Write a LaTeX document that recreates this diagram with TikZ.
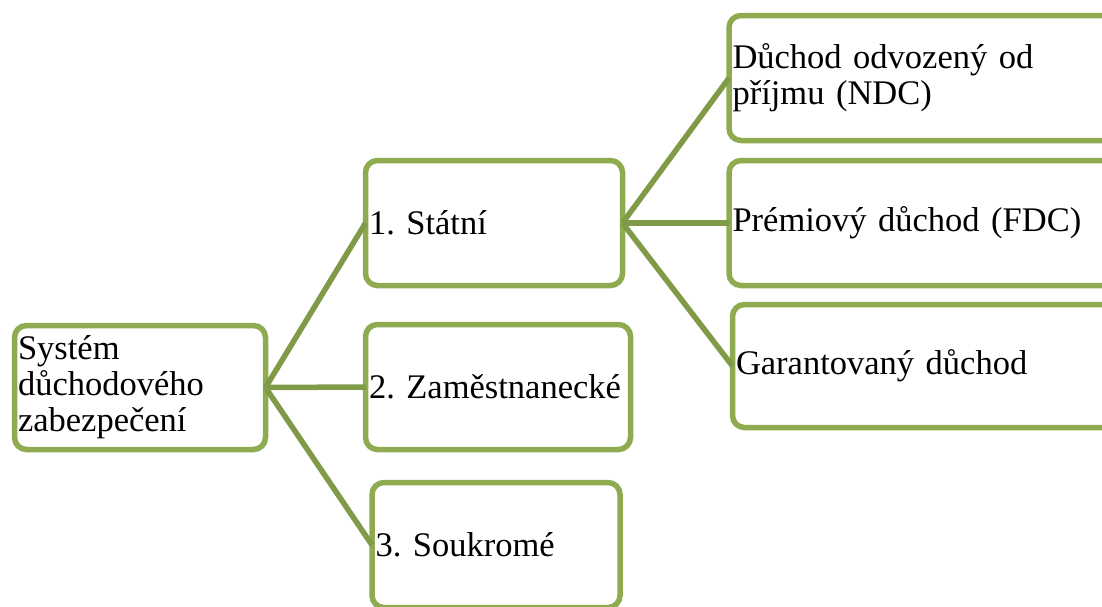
\documentclass[tikz,border=0pt]{standalone}
\usepackage{fontspec}
\setmainfont{Liberation Serif}
\frenchspacing
\definecolor{boxgreen}{HTML}{8EAB50}
\definecolor{linegreen}{HTML}{7F9B48}
\tikzset{
  box/.style={draw=boxgreen, line width=5.5pt, rounded corners=12pt, fill=white,
    anchor=north west, outer sep=0pt, inner xsep=3.5pt, inner ysep=0pt,
    align=left, font=\fontsize{34.5}{36}\selectfont},
  conn/.style={draw=linegreen, line width=5.5pt}
}
\begin{document}
\begin{tikzpicture}[x=1pt,y=-1pt]
\useasboundingbox (0,0) rectangle (1102,606);
\clip (0,0) rectangle (1102,606);
\node[box, minimum width=251pt, minimum height=124pt, text width=244pt] (root) at (14.5,325.5) {Systém\\důchodového\\zabezpečení};
\node[box, minimum width=257pt, minimum height=125pt, text width=250pt] (statni) at (365.5,160.5) {1. Státní};
\node[box, minimum width=265pt, minimum height=125pt, text width=258pt] (zam) at (365.5,324.5) {2. Zaměstnanecké};
\node[box, minimum width=248pt, minimum height=125pt, text width=241pt] (souk) at (372,482.5) {3. Soukromé};
\node[box, minimum width=411pt, minimum height=125pt, text width=404pt] (ndc) at (729,15.5) {Důchod odvozený od\\příjmu (NDC)};
\node[box, minimum width=411pt, minimum height=125pt, text width=404pt] (fdc) at (729,160.5) {Prémiový důchod (FDC)};
\node[box, minimum width=408pt, minimum height=123pt, text width=401pt] (gar) at (732.5,304.5) {Garantovaný důchod};
\draw[conn] (root.east) -- (statni.west);
\draw[conn] (root.east) -- (zam.west);
\draw[conn] (root.east) -- (souk.west);
\draw[conn] (statni.east) -- (ndc.west);
\draw[conn] (statni.east) -- (fdc.west);
\draw[conn] (statni.east) -- (gar.west);
\end{tikzpicture}
\end{document}
